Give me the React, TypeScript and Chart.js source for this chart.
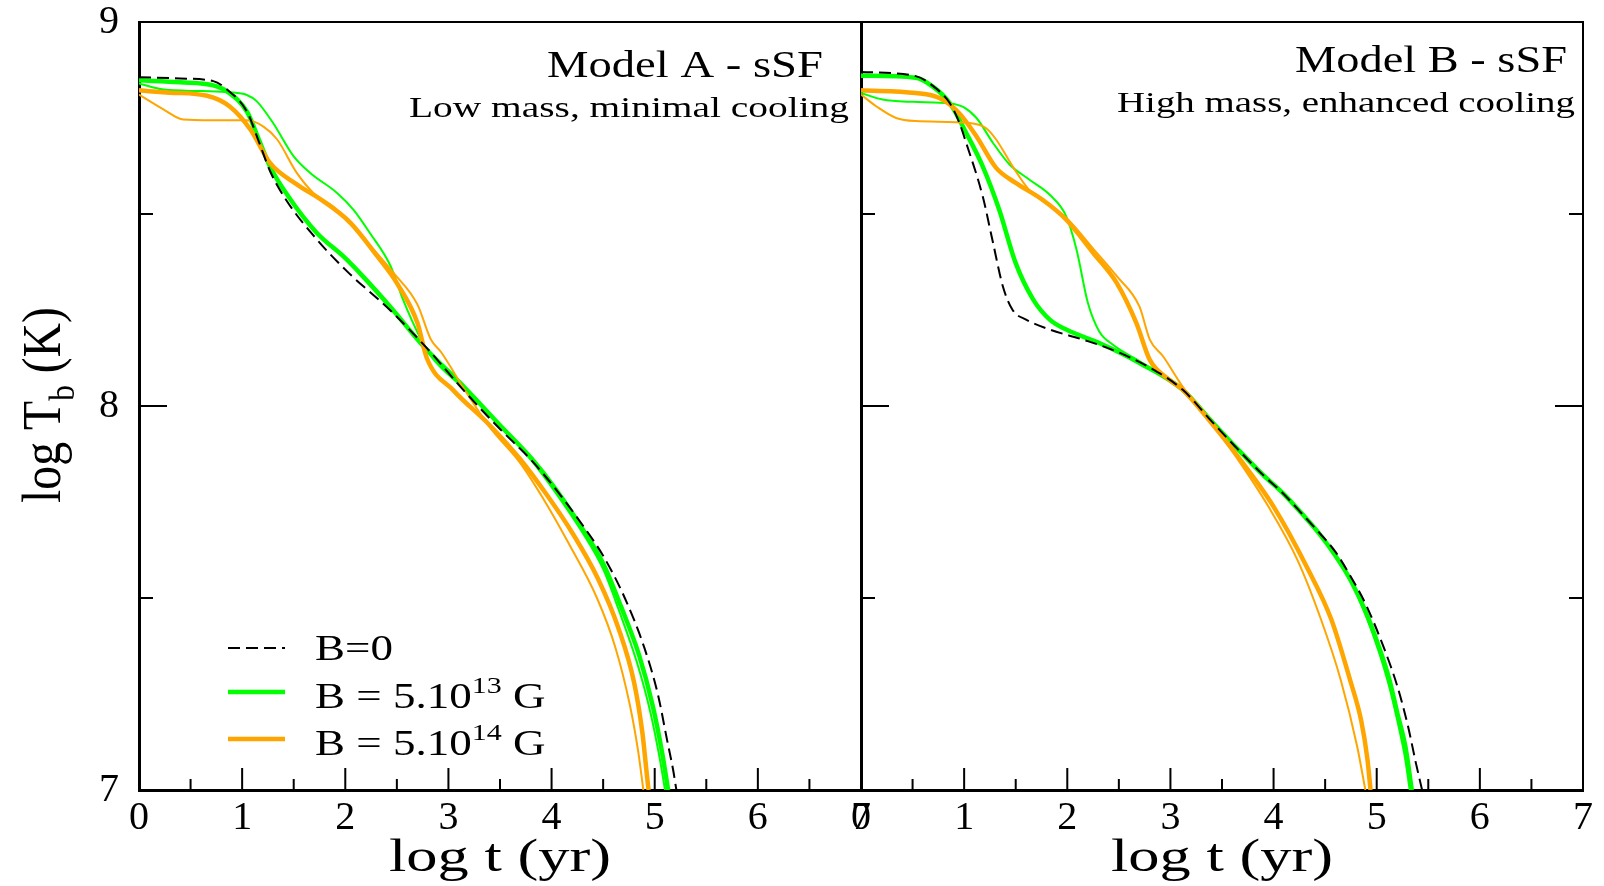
import React, { useEffect, useRef } from 'react';
import { Chart, registerables } from 'chart.js';

Chart.register(...registerables);

const FONT = "'Liberation Serif', 'Times New Roman', serif";
const GREEN = '#00ff00';
const ORANGE = '#ffa500';

// ---- axis ticks ----
const xMajorTicks = [0, 1, 2, 3, 4, 5, 6, 7];
const xMinorTicks = [0.5, 1.5, 2.5, 3.5, 4.5, 5.5, 6.5];
const yMajorTicks = [7, 8, 9];
const yMinorTicks = [7.5, 8.5];

// ---- Model A (low mass, minimal cooling) ----
const aB0X = [0, 0.4, 0.72, 0.85, 1.05, 1.16, 1.27, 1.43, 1.72, 2.02, 2.44, 2.8, 3.15, 3.5, 3.8, 4.05, 4.3, 4.5, 4.71, 4.9, 5.03, 5.12, 5.18, 5.21];
const aB0Y = [8.856, 8.853, 8.846, 8.825, 8.765, 8.69, 8.612, 8.535, 8.435, 8.35, 8.248, 8.148, 8.04, 7.94, 7.86, 7.78, 7.69, 7.61, 7.5, 7.37, 7.25, 7.13, 7.05, 7.0];

const aG13ThickX = [0, 0.4, 0.72, 0.85, 1.05, 1.16, 1.27, 1.45, 1.72, 2.0, 2.18, 2.45, 2.76, 3.15, 3.5, 3.8, 4.05, 4.3, 4.5, 4.67, 4.85, 4.98, 5.07, 5.13];
const aG13ThickY = [8.848, 8.843, 8.835, 8.82, 8.765, 8.695, 8.624, 8.545, 8.452, 8.385, 8.335, 8.254, 8.155, 8.05, 7.95, 7.865, 7.78, 7.68, 7.59, 7.48, 7.35, 7.22, 7.1, 7.0];

const aG13ThinX = [0, 0.24, 0.6, 0.88, 1.045, 1.14, 1.3, 1.5, 1.66, 1.92, 2.08, 2.24, 2.44, 2.56, 2.72, 2.83, 3.15, 3.5, 3.8, 4.05, 4.3, 4.5, 4.65, 4.83, 4.96, 5.05, 5.1];
const aG13ThinY = [8.84, 8.824, 8.82, 8.817, 8.81, 8.794, 8.737, 8.65, 8.607, 8.555, 8.511, 8.45, 8.364, 8.277, 8.181, 8.13, 8.045, 7.95, 7.86, 7.77, 7.67, 7.575, 7.47, 7.33, 7.2, 7.08, 7.0];

const aO14ThickX = [0, 0.3, 0.66, 0.88, 1.08, 1.27, 1.53, 1.79, 2.05, 2.31, 2.5, 2.7, 2.79, 3.05, 3.4, 3.7, 3.95, 4.2, 4.45, 4.65, 4.8, 4.88, 4.92, 4.94];
const aO14ThickY = [8.822, 8.816, 8.808, 8.78, 8.72, 8.633, 8.577, 8.533, 8.477, 8.39, 8.32, 8.216, 8.125, 8.04, 7.95, 7.86, 7.77, 7.67, 7.55, 7.42, 7.28, 7.15, 7.05, 7.0];

const aO14ThinX = [0, 0.24, 0.43, 0.7, 1.045, 1.21, 1.34, 1.53, 1.69, 1.9, 2.2, 2.47, 2.7, 2.83, 2.93, 3.15, 3.4, 3.7, 3.95, 4.16, 4.44, 4.62, 4.76, 4.84, 4.89];
const aO14ThinY = [8.811, 8.772, 8.746, 8.744, 8.744, 8.727, 8.694, 8.607, 8.555, 8.515, 8.43, 8.346, 8.264, 8.173, 8.14, 8.045, 7.945, 7.85, 7.745, 7.645, 7.5, 7.37, 7.22, 7.1, 7.0];

// ---- Model B (high mass, enhanced cooling) ----
const bB0X = [0, 0.53, 0.7, 0.86, 0.95, 1.02, 1.18, 1.28, 1.375, 1.47, 1.6, 1.83, 2.15, 2.45, 2.8, 3.12, 3.4, 3.63, 3.9, 4.09, 4.3, 4.45, 4.6, 4.75, 4.9, 5.07, 5.2, 5.3, 5.38, 5.44];
const bB0Y = [8.87, 8.859, 8.833, 8.789, 8.74, 8.685, 8.546, 8.425, 8.312, 8.25, 8.225, 8.199, 8.173, 8.145, 8.1, 8.042, 7.96, 7.894, 7.82, 7.773, 7.712, 7.668, 7.62, 7.555, 7.48, 7.37, 7.27, 7.17, 7.07, 7.0];

const bG13ThickX = [0, 0.53, 0.7, 0.86, 1.02, 1.18, 1.34, 1.5, 1.67, 1.83, 1.99, 2.31, 2.7, 3.12, 3.4, 3.63, 3.9, 4.09, 4.3, 4.45, 4.6, 4.75, 4.9, 5.02, 5.12, 5.2, 5.28, 5.34];
const bG13ThickY = [8.86, 8.855, 8.831, 8.789, 8.711, 8.624, 8.511, 8.372, 8.277, 8.225, 8.199, 8.164, 8.112, 8.042, 7.96, 7.894, 7.82, 7.773, 7.712, 7.665, 7.61, 7.545, 7.46, 7.374, 7.29, 7.2, 7.11, 7.0];

const bG13ThinX = [0, 0.21, 0.5, 0.86, 0.99, 1.12, 1.28, 1.44, 1.63, 1.83, 1.99, 2.09, 2.2, 2.31, 2.44, 2.73, 3.12, 3.4, 3.63, 3.9, 4.09, 4.3, 4.45, 4.6, 4.75, 4.9, 5.02, 5.12, 5.2, 5.27, 5.32];
const bG13ThinY = [8.815, 8.798, 8.792, 8.788, 8.779, 8.75, 8.685, 8.629, 8.59, 8.55, 8.494, 8.407, 8.268, 8.194, 8.16, 8.112, 8.045, 7.962, 7.896, 7.822, 7.775, 7.712, 7.665, 7.608, 7.54, 7.45, 7.36, 7.27, 7.18, 7.09, 7.0];

const bO14ThickX = [0, 0.53, 0.76, 0.95, 1.12, 1.31, 1.5, 1.76, 1.99, 2.25, 2.48, 2.67, 2.8, 2.99, 3.12, 3.4, 3.63, 4.0, 4.32, 4.56, 4.74, 4.85, 4.91, 4.94];
const bO14ThickY = [8.822, 8.815, 8.802, 8.763, 8.702, 8.62, 8.581, 8.537, 8.485, 8.399, 8.32, 8.216, 8.12, 8.068, 8.042, 7.955, 7.877, 7.738, 7.582, 7.444, 7.288, 7.18, 7.08, 7.0];

const bO14ThinX = [0, 0.15, 0.34, 0.53, 1.05, 1.21, 1.31, 1.47, 1.63, 1.99, 2.25, 2.48, 2.7, 2.8, 2.93, 3.12, 3.4, 3.63, 3.95, 4.23, 4.46, 4.65, 4.81, 4.89];
const bO14ThinY = [8.811, 8.78, 8.75, 8.742, 8.737, 8.724, 8.694, 8.624, 8.563, 8.49, 8.41, 8.338, 8.259, 8.173, 8.129, 8.05, 7.955, 7.87, 7.738, 7.6, 7.444, 7.288, 7.114, 7.0];

// ---- labels ----
const legendMain = ['B=0', 'B = 5.10', 'B = 5.10'];
const legendSup = ['', '13', '14'];
const legendTail = ['', ' G', ' G'];
const titleA = 'Model A - sSF';
const subtitleA = 'Low mass, minimal cooling';
const titleB = 'Model B - sSF';
const subtitleB = 'High mass, enhanced cooling';
const xTitle = 'log t (yr)';

type Seg = { t: string; size: number; dy?: number };

function drawRich(
  ctx: CanvasRenderingContext2D,
  segs: Seg[],
  x: number,
  y: number,
  opts: { align?: 'left' | 'right' | 'center'; width?: number; sx?: number; sy?: number; rotate?: number }
) {
  ctx.save();
  ctx.textBaseline = 'alphabetic';
  ctx.textAlign = 'left';
  let total = 0;
  const ws = segs.map((s) => {
    ctx.font = `${s.size}px ${FONT}`;
    const w = ctx.measureText(s.t).width;
    total += w;
    return w;
  });
  const sx = opts.width ? opts.width / total : opts.sx ?? 1;
  const sy = opts.sy ?? 1;
  ctx.translate(x, y);
  if (opts.rotate) ctx.rotate(opts.rotate);
  ctx.scale(sx, sy);
  let cx = opts.align === 'right' ? -total : opts.align === 'center' ? -total / 2 : 0;
  ctx.fillStyle = '#000';
  segs.forEach((s, i) => {
    ctx.font = `${s.size}px ${FONT}`;
    ctx.fillText(s.t, cx, s.dy ?? 0);
    cx += ws[i];
  });
  ctx.restore();
}

function series(xs: number[], ys: number[], color: string, width: number, dash: number[] = []) {
  return {
    data: xs.map((x, i) => ({ x, y: ys[i] })),
    borderColor: color,
    backgroundColor: color,
    borderWidth: width,
    borderDash: dash,
    showLine: true,
    pointRadius: 0,
    fill: false,
    cubicInterpolationMode: 'monotone' as const,
  };
}

type PanelCfg = {
  key: string;
  title: string;
  subtitle: string;
  titleRight: number;
  titleBase: number;
  titleWidth: number;
  subRight: number;
  subBase: number;
  subWidth: number;
  legend: boolean;
  rightTicks: boolean;
  rightBorder: boolean;
  yTitle: boolean;
};

function makeDecor(cfg: PanelCfg) {
  return {
    id: 'decor' + cfg.key,
    afterDraw(chart: any) {
      const ctx: CanvasRenderingContext2D = chart.ctx;
      const { left, right, top, bottom } = chart.chartArea;
      const xs = chart.scales.x;
      const ys = chart.scales.y;
      ctx.save();
      ctx.strokeStyle = '#000';
      ctx.lineWidth = 2;
      ctx.beginPath();
      ctx.moveTo(left, top);
      ctx.lineTo(right, top);
      if (cfg.rightBorder) ctx.lineTo(right, bottom);
      ctx.stroke();
      ctx.beginPath();
      xMajorTicks.forEach((v) => {
        const p = xs.getPixelForValue(v);
        ctx.moveTo(p, bottom);
        ctx.lineTo(p, bottom - 22);
      });
      xMinorTicks.forEach((v) => {
        const p = xs.getPixelForValue(v);
        ctx.moveTo(p, bottom);
        ctx.lineTo(p, bottom - 11);
      });
      yMajorTicks.forEach((v) => {
        const p = ys.getPixelForValue(v);
        ctx.moveTo(left, p);
        ctx.lineTo(left + 28, p);
        if (cfg.rightTicks) {
          ctx.moveTo(right, p);
          ctx.lineTo(right - 28, p);
        }
      });
      yMinorTicks.forEach((v) => {
        const p = ys.getPixelForValue(v);
        ctx.moveTo(left, p);
        ctx.lineTo(left + 14, p);
        if (cfg.rightTicks) {
          ctx.moveTo(right, p);
          ctx.lineTo(right - 14, p);
        }
      });
      ctx.stroke();
      ctx.restore();

      drawRich(ctx, [{ t: cfg.title, size: 38 }], cfg.titleRight, cfg.titleBase, { align: 'right', width: cfg.titleWidth });
      drawRich(ctx, [{ t: cfg.subtitle, size: 30 }], cfg.subRight, cfg.subBase, { align: 'right', width: cfg.subWidth });

      drawRich(ctx, [{ t: xTitle, size: 46 }], (left + right) / 2, 871, { align: 'center', width: 222 });

      if (cfg.yTitle) {
        drawRich(
          ctx,
          [
            { t: 'log T', size: 46 },
            { t: 'b', size: 30, dy: 12 },
            { t: ' (K)', size: 46 },
          ],
          60,
          405,
          { align: 'center', width: 196, sy: 1.2, rotate: -Math.PI / 2 }
        );
      }

      if (cfg.legend) {
        const ds = chart.data.datasets;
        const rows = [
          { ds: ds[0], lineY: 648, base: 660 },
          { ds: ds[4], lineY: 692, base: 708 },
          { ds: ds[2], lineY: 739, base: 755 },
        ];
        rows.forEach((r, i) => {
          ctx.save();
          ctx.strokeStyle = r.ds.borderColor;
          ctx.lineWidth = r.ds.borderWidth;
          ctx.setLineDash(r.ds.borderDash || []);
          ctx.beginPath();
          ctx.moveTo(228, r.lineY);
          ctx.lineTo(285, r.lineY);
          ctx.stroke();
          ctx.restore();
          const segs: Seg[] = [{ t: legendMain[i], size: 36 }];
          if (legendSup[i]) {
            segs.push({ t: legendSup[i], size: 24, dy: -15 });
            segs.push({ t: legendTail[i], size: 36 });
          }
          drawRich(ctx, segs, 315, r.base, { align: 'left', sx: 1.25 });
        });
      }
    },
  };
}

function makeConfig(
  sets: { b0: [number[], number[]]; gt: [number[], number[]]; gn: [number[], number[]]; ot: [number[], number[]]; on: [number[], number[]] },
  cfg: PanelCfg,
  padLeftWidth: number,
  padRight: number
): any {
  const tickFont = { family: FONT, size: 40, lineHeight: 1 };
  return {
    type: 'scatter',
    data: {
      datasets: [
        series(sets.b0[0], sets.b0[1], '#000000', 2, [12, 6]),
        series(sets.on[0], sets.on[1], ORANGE, 2),
        series(sets.ot[0], sets.ot[1], ORANGE, 4.5),
        series(sets.gn[0], sets.gn[1], GREEN, 2),
        series(sets.gt[0], sets.gt[1], GREEN, 4.5),
      ],
    },
    options: {
      animation: false,
      responsive: false,
      maintainAspectRatio: false,
      devicePixelRatio: 1,
      layout: { padding: { left: 0, right: padRight, top: 22, bottom: 0 } },
      plugins: { legend: { display: false }, tooltip: { enabled: false } },
      scales: {
        x: {
          type: 'linear',
          min: 0,
          max: 7,
          afterFit: (s: any) => {
            s.height = 96;
          },
          grid: { display: false, drawTicks: false },
          border: { display: true, color: '#000', width: 3 },
          ticks: { stepSize: 1, font: tickFont, color: '#000', padding: 8, maxRotation: 0 },
        },
        y: {
          type: 'linear',
          min: 7,
          max: 9,
          afterFit: (s: any) => {
            s.width = padLeftWidth;
            s.paddingTop = 0;
            s.paddingBottom = 0;
          },
          grid: { display: false, drawTicks: false },
          border: { display: true, color: '#000', width: 3 },
          ticks: { stepSize: 1, font: tickFont, color: '#000', padding: 20, display: cfg.yTitle },
        },
      },
    },
    plugins: [makeDecor(cfg)],
  };
}

export default function App() {
  const leftRef = useRef<HTMLCanvasElement>(null);
  const rightRef = useRef<HTMLCanvasElement>(null);

  useEffect(() => {
    const cfgA: PanelCfg = {
      key: 'A',
      title: titleA,
      subtitle: subtitleA,
      titleRight: 823,
      titleBase: 77,
      titleWidth: 276,
      subRight: 849,
      subBase: 117,
      subWidth: 440,
      legend: true,
      rightTicks: false,
      rightBorder: false,
      yTitle: true,
    };
    const cfgB: PanelCfg = {
      key: 'B',
      title: titleB,
      subtitle: subtitleB,
      titleRight: 1567,
      titleBase: 72,
      titleWidth: 272,
      subRight: 1575,
      subBase: 112,
      subWidth: 458,
      legend: false,
      rightTicks: true,
      rightBorder: true,
      yTitle: false,
    };
    const c1 = new Chart(
      leftRef.current as HTMLCanvasElement,
      makeConfig(
        { b0: [aB0X, aB0Y], gt: [aG13ThickX, aG13ThickY], gn: [aG13ThinX, aG13ThinY], ot: [aO14ThickX, aO14ThickY], on: [aO14ThinX, aO14ThinY] },
        cfgA,
        139,
        1604 - 861
      )
    );
    const c2 = new Chart(
      rightRef.current as HTMLCanvasElement,
      makeConfig(
        { b0: [bB0X, bB0Y], gt: [bG13ThickX, bG13ThickY], gn: [bG13ThinX, bG13ThinY], ot: [bO14ThickX, bO14ThickY], on: [bO14ThinX, bO14ThinY] },
        cfgB,
        861,
        1604 - 1583
      )
    );
    return () => {
      c1.destroy();
      c2.destroy();
    };
  }, []);

  const canvasStyle: React.CSSProperties = { position: 'absolute', left: 0, top: 0, width: 1604, height: 886, display: 'block' };
  return (
    <div style={{ position: 'absolute', left: 0, top: 0, width: 1604, height: 886, background: '#fff', overflow: 'hidden' }}>
      <canvas ref={leftRef} width={1604} height={886} style={canvasStyle} />
      <canvas ref={rightRef} width={1604} height={886} style={canvasStyle} />
    </div>
  );
}
